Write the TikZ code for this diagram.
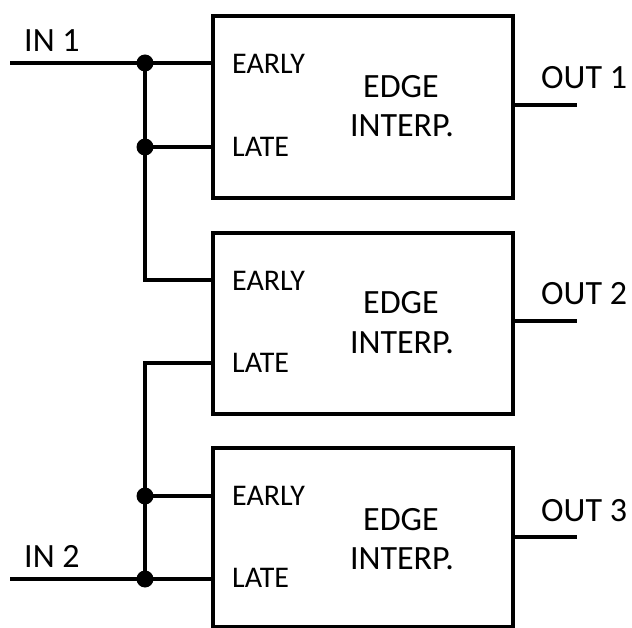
\documentclass[tikz,border=0pt]{standalone}
\usepackage{fontspec}
\setmainfont{Carlito}
\begin{document}
\begin{tikzpicture}[x=1pt,y=-1pt,
  blk/.style={draw,line width=4pt,minimum width=300pt,minimum height=182pt,inner sep=0pt,anchor=north west},
  wire/.style={line width=4pt},
  jdot/.style={circle,fill=black,inner sep=0pt,minimum size=17pt},
  big/.style={font=\fontsize{34}{40}\selectfont,inner sep=0pt},
  small/.style={font=\fontsize{30}{35}\selectfont,inner sep=0pt,anchor=base west}]
\useasboundingbox (0,0) rectangle (632,628);
% boxes
\node[blk] (b1) at (211,14) {};
\node[blk,minimum height=181pt] (b2) at (211,231) {};
\node[blk,minimum height=179pt] (b3) at (211,446) {};
% coordinates of ports
\coordinate (e1) at (211,63);
\coordinate (l1) at (211,147);
\coordinate (e2) at (211,280);
\coordinate (l2) at (211,363);
\coordinate (e3) at (211,496);
\coordinate (l3) at (211,579);
\coordinate (in1) at (10,63);
\coordinate (in2) at (10,579);
\coordinate (c2) at (145,280);
\coordinate (c3) at (145,363);
\node[jdot] (d1) at (145,63) {};
\node[jdot] (d2) at (145,147) {};
\node[jdot] (d3) at (145,496) {};
\node[jdot] (d4) at (145,579) {};
\coordinate (o1a) at (511,105);
\coordinate (o1b) at (577,105);
\coordinate (o2a) at (511,321);
\coordinate (o2b) at (577,321);
\coordinate (o3a) at (511,537);
\coordinate (o3b) at (577,537);
% wires
\draw[wire] (in1) -- (e1);
\draw[wire] (d2.center) -- (l1);
\draw[wire] (d1.center) -- (c2) -- (e2);
\draw[wire] (l2) -- (c3) -- (d4.center);
\draw[wire] (d3.center) -- (e3);
\draw[wire] (in2) -- (l3);
\draw[wire] (o1a) -- (o1b);
\draw[wire] (o2a) -- (o2b);
\draw[wire] (o3a) -- (o3b);
% labels
\node[big,anchor=base west] (tin1) at (24,52) {IN 1};
\node[big,anchor=base west] (tin2) at (24,567) {IN 2};
\node[big,anchor=base west] (to1) at (541,89) {OUT 1};
\node[big,anchor=base west] (to2) at (541,305) {OUT 2};
\node[big,anchor=base west] (to3) at (541,521) {OUT 3};
\foreach \i/\ey/\ly/\ty in {1/74/157/98, 2/291/373/314, 3/505/587/530} {
  \node[small] (te\i) at (232,\ey) {EARLY};
  \node[small] (tl\i) at (232,\ly) {LATE};
  \node[big,anchor=base] (tg\i) at (401,\ty) {EDGE};
  \node[big,anchor=base] (tp\i) at (402,\ty+39) {INTERP.};
}
\end{tikzpicture}
\end{document}
